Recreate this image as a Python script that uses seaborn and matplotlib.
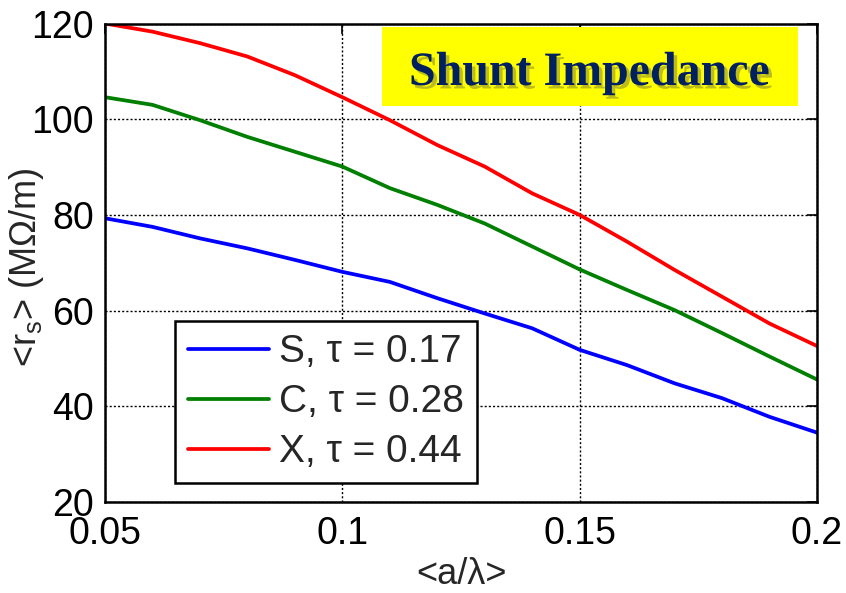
import matplotlib
matplotlib.use("Agg")
import matplotlib.pyplot as plt
import matplotlib.patheffects as pe
from matplotlib.patches import Rectangle
import seaborn as sns
import pandas as pd

# ---- data ----
a_over_lambda = [0.05, 0.06, 0.07, 0.08, 0.09, 0.10, 0.11, 0.12,
                 0.13, 0.14, 0.15, 0.16, 0.17, 0.18, 0.19, 0.20]
rs_S = [79.3, 77.5, 75.1, 73.0, 70.6, 68.1, 66.0, 62.6,
        59.4, 56.3, 51.8, 48.6, 44.8, 41.7, 37.8, 34.5]
rs_C = [104.6, 103.0, 99.8, 96.3, 93.2, 90.1, 85.6, 82.1,
        78.2, 73.4, 68.6, 64.3, 60.1, 55.3, 50.4, 45.6]
rs_X = [120.0, 118.3, 115.9, 113.1, 109.2, 104.6, 99.8, 94.6,
        90.1, 84.5, 80.0, 74.4, 68.5, 62.9, 57.3, 52.6]
series_labels = ["S, \u03c4 = 0.17", "C, \u03c4 = 0.28", "X, \u03c4 = 0.44"]
series_colors = ["#0000ff", "#007f00", "#ff0000"]
x_ticks = [0.05, 0.1, 0.15, 0.2]
x_tick_labels = ["0.05", "0.1", "0.15", "0.2"]
y_ticks = [20, 40, 60, 80, 100, 120]
title_text = "Shunt Impedance"

rows = []
for lab, vals in zip(series_labels, [rs_S, rs_C, rs_X]):
    for xv, yv in zip(a_over_lambda, vals):
        rows.append({"a": xv, "rs": yv, "series": lab})
df = pd.DataFrame(rows)

sns.set_style("white")
plt.rcParams["font.family"] = ["Liberation Sans", "DejaVu Sans"]
plt.rcParams["mathtext.fontset"] = "custom"
plt.rcParams["mathtext.rm"] = "Liberation Sans"
plt.rcParams["mathtext.it"] = "Liberation Sans:italic"

fig = plt.figure(figsize=(8.46, 5.93), dpi=100)
ax = fig.add_axes([105/846, 91/593, 712/846, 478.5/593])

sns.lineplot(data=df, x="a", y="rs", hue="series", hue_order=series_labels,
             palette=series_colors, linewidth=2.7, ax=ax, legend=True)

ax.set_xlim(0.05, 0.2)
ax.set_ylim(20, 120)
ax.set_xticks(x_ticks)
ax.set_xticklabels(x_tick_labels)
ax.set_yticks(y_ticks)
ax.tick_params(axis="both", which="both", direction="in", length=7, width=1.2,
               top=True, right=True, labelsize=27, colors="black")
ax.tick_params(axis="x", pad=10)
ax.tick_params(axis="y", pad=8)
ax.grid(True, color="black", linestyle=(0, (1.5, 1.5)), linewidth=1.0)
ax.set_axisbelow(True)
for s in ax.spines.values():
    s.set_color("black")
    s.set_linewidth(1.8)
    s.set_visible(True)

ax.set_xlabel("<a/\u03bb>", fontsize=26)
ax.xaxis.set_label_coords(0.5, -0.115)
ax.set_ylabel("<r$_{\\mathrm{s}}$> (M\u03a9/m)", fontsize=26)
ax.yaxis.set_label_coords(-0.083, 0.49)

leg = ax.legend(loc="lower left", bbox_to_anchor=(0.0983, 0.0397),
                borderaxespad=0, fontsize=28, frameon=True, fancybox=False,
                framealpha=1, edgecolor="black", handlelength=2.1,
                handletextpad=0.25, labelspacing=0.36, borderpad=0.33)
leg.get_frame().set_linewidth(1.8)
for line in leg.get_lines():
    line.set_linewidth(2.7)

# title box
ax.add_patch(Rectangle((0.389, 0.828), 0.584, 0.164, transform=ax.transAxes,
                       facecolor="#ffff00", edgecolor="none", zorder=3))
ax.text(0.680, 0.8715, title_text, transform=ax.transAxes, ha="center",
        va="baseline", fontsize=34.5, fontweight="bold", color="#002060",
        family=["Liberation Serif", "DejaVu Serif"], zorder=4,
        path_effects=[pe.withSimplePatchShadow(offset=(2.5, -2.5),
                                               shadow_rgbFace="#6b6b40",
                                               alpha=0.45)])

fig.savefig("out.png", dpi=100)
